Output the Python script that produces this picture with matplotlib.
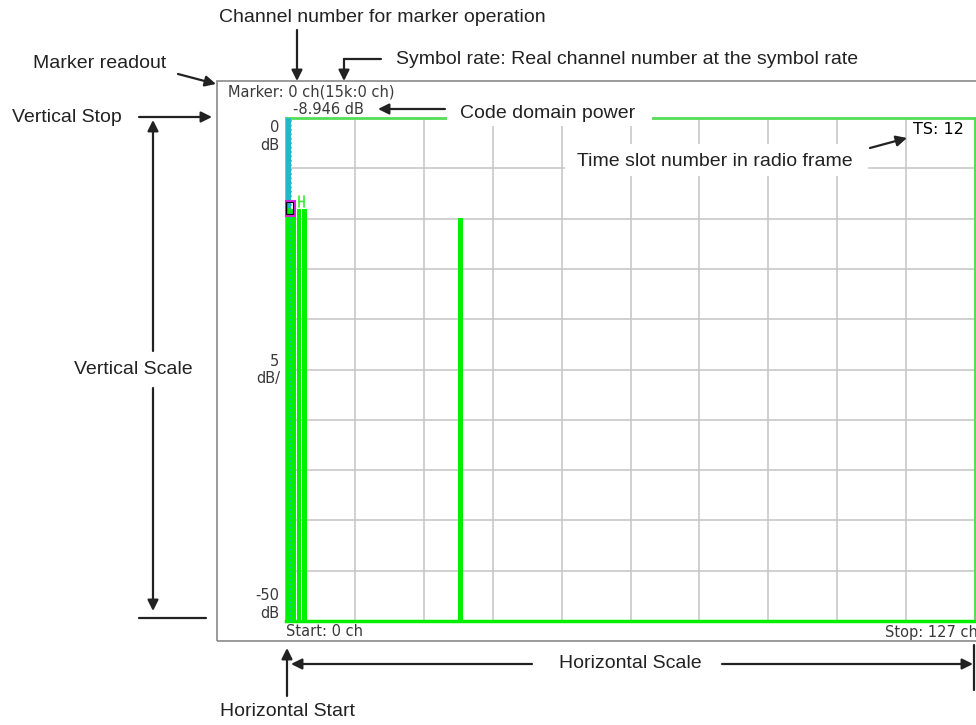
import matplotlib
matplotlib.use('Agg')
import matplotlib.pyplot as plt
from matplotlib.patches import Rectangle

# code domain power per channel (dB)
channels = [0, 1, 2, 3, 32]
power_db = [-8.946, -9.0, -9.0, -9.0, -9.9]
marker_ch = 0
marker_db = -8.946
db_top, db_bottom = 0, -50
ch_start, ch_stop = 0, 127
time_slot = 12

W, H = 976, 725


def fx(x):
    return x / W


def fy(y):
    return 1 - y / H


def P(x, y):
    return (fx(x), fy(y))


fig = plt.figure(figsize=(W / 100, H / 100), dpi=100)

# instrument screen frame
fig.add_artist(Rectangle(P(217, 641), fx(1000) - fx(217), fy(81) - fy(641),
                         fill=False, ec='#8a8a8a', lw=1.2, transform=fig.transFigure))

ax = fig.add_axes([fx(286), fy(621), (975 - 286) / W, (621 - 118) / H])
ax.set_xlim(ch_start, ch_stop + 1)
ax.set_ylim(db_bottom, db_top)
ax.set_xticks([i * 12.8 for i in range(11)])
ax.set_yticks(list(range(db_bottom, db_top + 1, 5)))
ax.grid(True, color='#c8c8c8', lw=1.2)
ax.tick_params(length=0, labelbottom=False, labelleft=False)
for s in ['left', 'top', 'right']:
    ax.spines[s].set_color('#55dd55')
    ax.spines[s].set_linewidth(2)
ax.spines['bottom'].set_color('#00ee00')
ax.spines['bottom'].set_linewidth(2.5)

ax.bar(channels, [p - db_bottom for p in power_db], bottom=db_bottom, width=0.85,
       align='edge', color='#00f000', zorder=3)
# marker highlight
ax.bar(marker_ch, db_top - marker_db, bottom=marker_db, width=0.9, align='edge',
       color='#22b8cc', zorder=3)
ax.plot([marker_ch + 0.95, marker_ch + 0.95], [db_bottom, db_top], ls=':', color='#22b8cc',
        lw=1.2, zorder=4)
ax.add_patch(Rectangle((marker_ch - 0.05, marker_db - 0.7), 1.5, 1.4, fill=False,
                       ec='#dd22dd', lw=2.2, zorder=5, clip_on=False))
ax.add_patch(Rectangle((marker_ch + 0.05, marker_db - 0.55), 1.25, 1.1, fill=False,
                       ec='black', lw=0.8, zorder=6, clip_on=False))
ax.annotate('', xy=(3.9, marker_db + 0.65), xytext=(1.9, marker_db + 0.65),
            arrowprops=dict(arrowstyle='|-|', color='#33ee33', lw=1.2, mutation_scale=4),
            zorder=5)

# screen readouts
sf = dict(family='DejaVu Sans', fontsize=10.5, color='#3a3a3a')
fig.text(*P(228, 92), 'Marker: %d ch(15k:%d ch)' % (marker_ch, marker_ch), va='center', **sf)
fig.text(*P(293, 109), '%.3f dB' % marker_db, va='center', **sf)
fig.text(*P(279, 127), '%d' % db_top, ha='right', va='center', **sf)
fig.text(*P(279, 145), 'dB', ha='right', va='center', **sf)
fig.text(*P(279, 362), '5', ha='right', va='center', **sf)
fig.text(*P(280, 379), 'dB/', ha='right', va='center', **sf)
fig.text(*P(279, 595), '%d' % db_bottom, ha='right', va='center', **sf)
fig.text(*P(279, 613), 'dB', ha='right', va='center', **sf)
fig.text(*P(286, 632), 'Start: %d ch' % ch_start, va='center', **sf)
fig.text(*P(885, 632), 'Stop: %d ch' % ch_stop, va='center', **sf)
fig.text(*P(913, 130), 'TS: %d' % time_slot, va='center', family='DejaVu Sans',
         fontsize=11.5, color='black', zorder=6)

# callouts
af = dict(family='Liberation Sans', fontsize=14, color='#222222', zorder=6)
arr = dict(arrowstyle='-|>', color='#222222', lw=1.6, mutation_scale=16, shrinkA=0, shrinkB=0)
line = dict(arrowstyle='-', color='#222222', lw=1.6, shrinkA=0, shrinkB=0)


def arrow(x0, y0, x1, y1, props=arr):
    fig.add_artist(matplotlib.patches.FancyArrowPatch(P(x0, y0), P(x1, y1),
                                                      transform=fig.transFigure, **props))


fig.text(*P(382, 18), 'Channel number for marker operation', ha='center', va='center', **af)
arrow(297, 30, 297, 81)
fig.text(*P(396, 60), 'Symbol rate: Real channel number at the symbol rate', va='center', **af)
arrow(381, 59, 344, 59, line)
arrow(344, 59, 344, 81)
fig.text(*P(33, 64), 'Marker readout', va='center', **af)
arrow(178, 74, 216, 84)
fig.text(*P(12, 117), 'Vertical Stop', va='center', **af)
arrow(139, 117, 212, 117)
arrow(153, 351, 153, 120)
arrow(153, 388, 153, 611)
arrow(139, 618, 206, 618, line)
fig.text(*P(133, 370), 'Vertical Scale', ha='center', va='center', **af)

fig.add_artist(Rectangle(P(447, 126), fx(652) - fx(447), fy(106) - fy(126), fc='white',
                         ec='none', transform=fig.transFigure, zorder=5))
fig.text(*P(460, 114), 'Code domain power', va='center', **af)
arrow(445, 109, 378, 109)

fig.add_artist(Rectangle(P(565, 176), fx(868) - fx(565), fy(144) - fy(176), fc='white',
                         ec='none', transform=fig.transFigure, zorder=5))
fig.text(*P(577, 161), 'Time slot number in radio frame', va='center', **af)
arrow(870, 148, 907, 138)

fig.text(*P(630, 664), 'Horizontal Scale', ha='center', va='center', **af)
arrow(532, 664, 291, 664)
arrow(722, 664, 973, 664)
arrow(974, 645, 974, 690, line)
arrow(287, 696, 287, 648)
fig.text(*P(287, 712), 'Horizontal Start', ha='center', va='center', **af)

fig.savefig('out.png', dpi=100)
